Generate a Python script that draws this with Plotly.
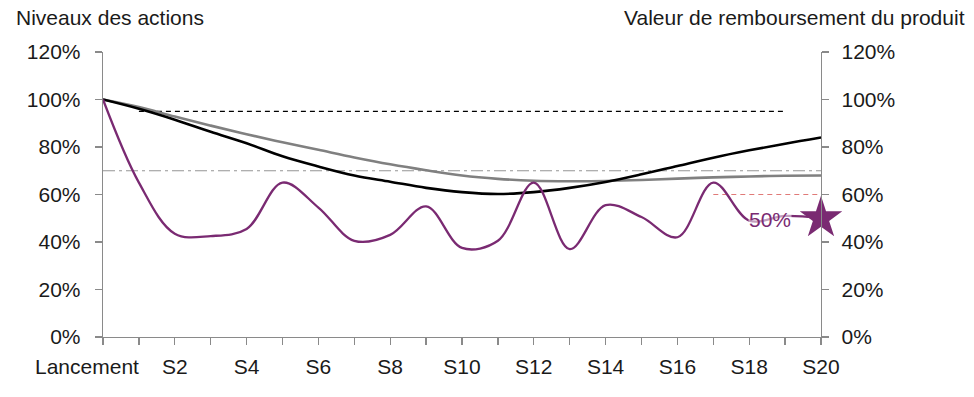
import plotly.graph_objects as go

steps = list(range(21))
tick_labels = ["", "", "S2", "", "S4", "", "S6", "", "S8", "", "S10", "",
               "S12", "", "S14", "", "S16", "", "S18", "", "S20"]
first_label = "Lancement"
y_ticks = [0, 20, 40, 60, 80, 100, 120]
y_tick_labels = ["0%", "20%", "40%", "60%", "80%", "100%", "120%"]

black_series = [100, 96.1, 91.5, 86.4, 81.6, 76.1, 71.8, 68, 65.4, 62.8, 61, 60.2,
                61, 62.8, 65.3, 68.5, 72, 75.5, 78.6, 81.4, 84]
gray_series = [100, 96.8, 92.8, 89, 85.4, 82, 78.8, 75.6, 72.7, 70.2, 68, 66.6,
               65.8, 65.6, 65.7, 66.1, 66.7, 67.2, 67.6, 67.9, 68]
purple_series = [100, 65, 43.5, 42.5, 45.5, 65, 54.5, 40.5, 43, 55, 37.5, 40.5,
                 65, 37, 55.5, 50.5, 42, 65, 49, 51, 50]

barrier_95_x = [1, 19]
barrier_95_y = [95, 95]
barrier_70_x = [0, 20]
barrier_70_y = [70, 70]
barrier_60_x = [17, 20]
barrier_60_y = [60, 60]
final_x = [20]
final_y = [50]
final_label = "50%"

PURPLE = "#7a2a72"
FONT = "Liberation Sans"
TXT = "#1a1a1a"

fig = go.Figure()
fig.add_trace(go.Scatter(x=barrier_70_x, y=barrier_70_y, mode="lines",
                         line=dict(color="#959595", width=1.2, dash="12px,4px,3px,4px"),
                         hoverinfo="skip"))
fig.add_trace(go.Scatter(x=barrier_95_x, y=barrier_95_y, mode="lines",
                         line=dict(color="#000000", width=1.2, dash="5px,4px"),
                         hoverinfo="skip"))
fig.add_trace(go.Scatter(x=barrier_60_x, y=barrier_60_y, mode="lines",
                         line=dict(color="#e07a78", width=1.2, dash="5px,4px"),
                         hoverinfo="skip"))
fig.add_trace(go.Scatter(x=steps, y=gray_series, mode="lines",
                         line=dict(color="#808080", width=2.6, shape="spline", smoothing=1)))
fig.add_trace(go.Scatter(x=steps, y=black_series, mode="lines",
                         line=dict(color="#000000", width=2.6, shape="spline", smoothing=1)))
fig.add_trace(go.Scatter(x=steps, y=purple_series, mode="lines",
                         line=dict(color=PURPLE, width=2.3, shape="spline", smoothing=1)))
fig.add_trace(go.Scatter(x=final_x, y=final_y, mode="markers", cliponaxis=False,
                         marker=dict(symbol="star", size=32, color=PURPLE,
                                     line=dict(width=0)),
                         yaxis="y2"))

fig.add_annotation(x=18.57, y=49.3, text=final_label, showarrow=False,
                   font=dict(family=FONT, size=21, color=PURPLE),
                   bgcolor="rgba(255,255,255,0.55)", borderpad=0)

fig.add_annotation(x=0, xshift=-16, yref="paper", y=(337 - 367) / 285,
                   xanchor="center", yanchor="middle", text=first_label,
                   showarrow=False, font=dict(family=FONT, size=21, color=TXT))

fig.add_annotation(xref="paper", yref="paper", x=(14 - 103) / 718, y=(337 - 17) / 285,
                   xanchor="left", yanchor="middle", text="Niveaux des actions",
                   showarrow=False, font=dict(family=FONT, size=21, color=TXT))
fig.add_annotation(xref="paper", yref="paper", x=(967 - 103) / 718, y=(337 - 17) / 285,
                   xanchor="right", yanchor="middle", text="Valeur de remboursement du produit",
                   showarrow=False, font=dict(family=FONT, size=21, color=TXT))

axis_common = dict(showline=True, linecolor="#8a8a8a", linewidth=1.3,
                   ticks="outside", ticklen=7, tickcolor="#8a8a8a", tickwidth=1.3,
                   showgrid=False, zeroline=False,
                   tickfont=dict(family=FONT, size=21, color=TXT))

fig.update_layout(
    width=974, height=397,
    margin=dict(l=103, r=153, t=52, b=60),
    plot_bgcolor="white", paper_bgcolor="white",
    showlegend=False,
    hovermode=False,
    xaxis=dict(range=[0, 20], tickmode="array", tickvals=steps, ticktext=tick_labels,
               ticklabelstandoff=3, **axis_common),
    yaxis=dict(range=[0, 120], tickmode="array", tickvals=y_ticks, ticktext=y_tick_labels,
               ticklabelstandoff=10, **axis_common),
    yaxis2=dict(range=[0, 120], overlaying="y", side="right", tickmode="array",
                tickvals=y_ticks, ticktext=y_tick_labels,
                ticklabelstandoff=8, **axis_common),
)

fig.write_html("out.html",
               config={"displayModeBar": False, "staticPlot": True},
               post_script="document.body.style.margin='0';document.body.style.overflow='hidden';")
